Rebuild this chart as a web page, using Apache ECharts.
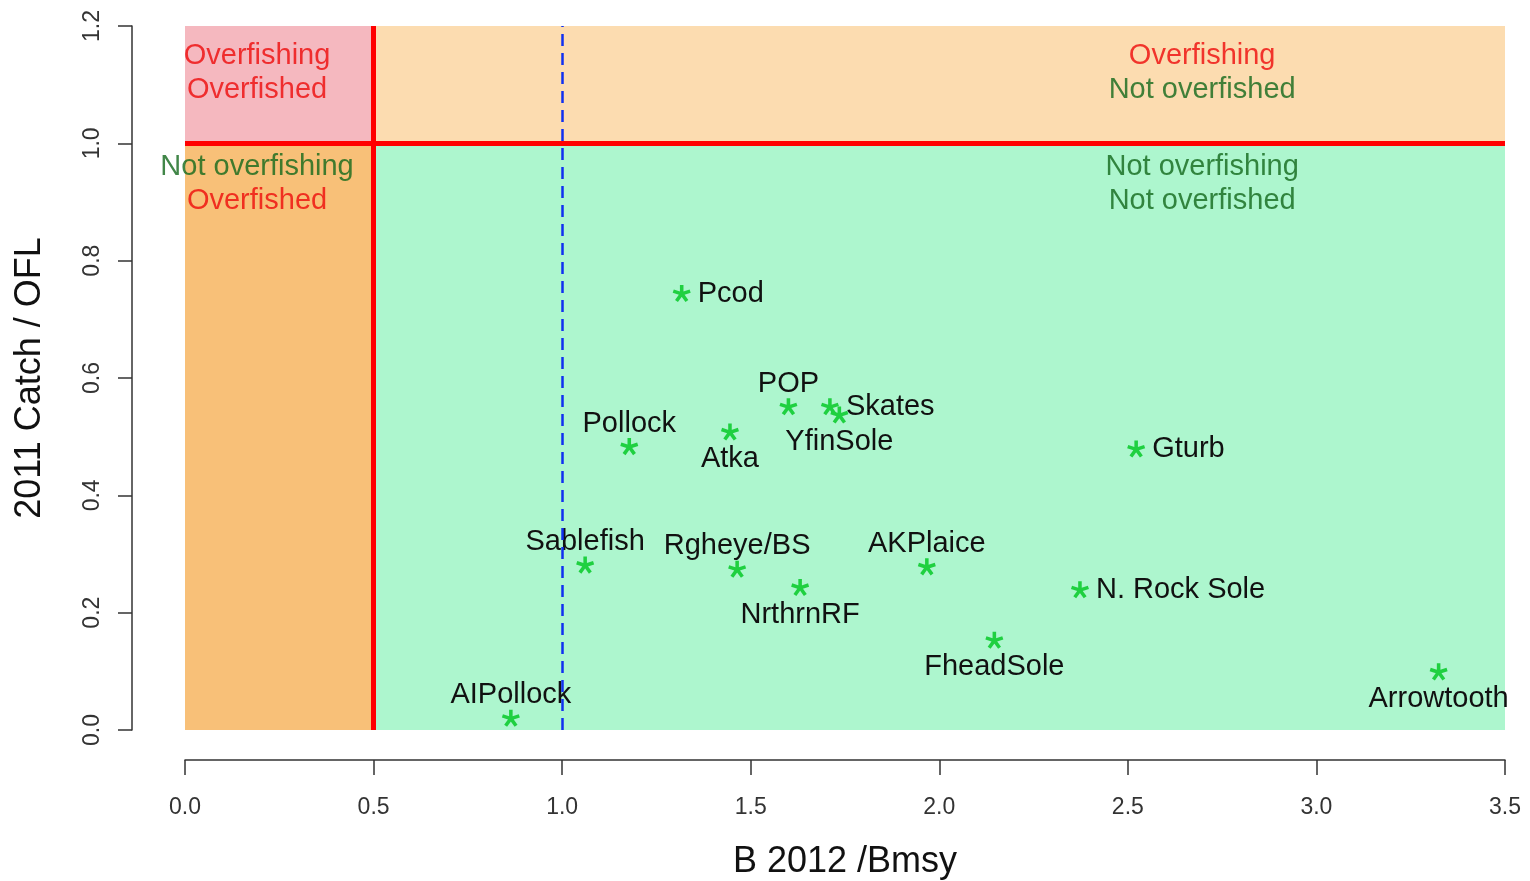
<!DOCTYPE html>
<html>
<head>
<meta charset="utf-8">
<title>Catch / OFL vs B / Bmsy</title>
<script src="https://cdn.jsdelivr.net/npm/echarts@6/dist/echarts.min.js"></script>
<style>
  html, body { margin: 0; padding: 0; background: #fff; }
  #chart { width: 1530px; height: 881px; }
</style>
</head>
<body>
<div id="chart"></div>
<script>
// stock status points
const stocks = ['Pcod', 'POP', 'Skates', 'YfinSole', 'Atka', 'Pollock', 'Gturb', 'Sablefish',
  'Rgheye/BS', 'NrthrnRF', 'AKPlaice', 'N. Rock Sole', 'FheadSole', 'Arrowtooth', 'AIPollock']
const bRatio = [1.317, 1.600, 1.710, 1.735, 1.445, 1.178, 2.522, 1.061,
  1.464, 1.631, 1.967, 2.373, 2.146, 3.324, 0.864]
const catchRatio = [0.744, 0.551, 0.551, 0.537, 0.508, 0.483, 0.479, 0.281,
  0.274, 0.243, 0.278, 0.239, 0.153, 0.099, 0.020]

// reference lines
const bLimit = 0.5
const bTarget = 1.0
const oflLimit = 1.0
const xMax = 3.5
const yMax = 1.2

// quadrant captions
const zoneX = [0.191, 0.191, 2.697, 2.697]
const zoneY = [1.12, 0.93, 1.12, 0.93]
const zoneLine1 = ['Overfishing', 'Not overfishing', 'Overfishing', 'Not overfishing']
const zoneLine2 = ['Overfished', 'Overfished', 'Not overfished', 'Not overfished']

const RED = '#EE0A0A'
const DKGREEN = '#12681A'

// where each name sits next to its star
const labelPos = {
  'Pcod': 'right', 'POP': 'top', 'Skates': 'right', 'YfinSole': 'bottom', 'Atka': 'bottom',
  'Pollock': 'top', 'Gturb': 'right', 'Sablefish': 'top', 'Rgheye/BS': 'top', 'NrthrnRF': 'bottom',
  'AKPlaice': 'top', 'N. Rock Sole': 'right', 'FheadSole': 'bottom', 'Arrowtooth': 'bottom', 'AIPollock': 'top'
}
const posGap = { top: 0, bottom: 4, right: 7 }

// 5 armed asterisk like the text "*"
function asterisk (arms) {
  const w = 0.2
  let p = ''
  for (let i = 0; i < arms; i++) {
    const a = Math.PI * 2 * i / arms
    const c = Math.cos(a), s = Math.sin(a)
    const pts = [[-w, 0.2], [w, 0.2], [w, -1], [-w, -1]].map(([x, y]) => [x * c - y * s, x * s + y * c])
    p += 'M' + pts.map(q => q[0].toFixed(3) + ',' + q[1].toFixed(3)).join('L') + 'Z'
  }
  return 'path://' + p
}

const chart = echarts.init(document.getElementById('chart'))

const zoneColor = (t) => (t.indexOf('Not') === 0 ? 'g' : 'r')

const option = {
  animation: false,
  backgroundColor: '#fff',
  textStyle: { fontFamily: 'Liberation Sans, Arial, sans-serif' },
  grid: { left: 185, right: 25, top: 26, bottom: 151, outerBoundsMode: 'none', containLabel: false },
  xAxis: {
    type: 'value',
    min: 0,
    max: xMax,
    interval: 0.5,
    offset: 30,
    axisLine: { show: true, onZero: false, lineStyle: { color: '#333', width: 1.5 } },
    axisTick: { show: true, length: 15, lineStyle: { color: '#333', width: 1.5 } },
    axisLabel: { margin: 36, fontSize: 23, color: '#333', formatter: v => v.toFixed(1) },
    splitLine: { show: false },
    name: 'B 2012 /Bmsy',
    nameLocation: 'middle',
    nameGap: 84,
    nameTextStyle: { fontSize: 36, color: '#111' }
  },
  yAxis: {
    type: 'value',
    min: 0,
    max: yMax,
    interval: 0.2,
    offset: 53,
    axisLine: { show: true, onZero: false, lineStyle: { color: '#333', width: 1.5 } },
    axisTick: { show: true, length: 14, lineStyle: { color: '#333', width: 1.5 } },
    axisLabel: { margin: 28, fontSize: 23, color: '#333', rotate: 90, formatter: v => v.toFixed(1) },
    splitLine: { show: false },
    name: '2011 Catch / OFL',
    nameLocation: 'middle',
    nameGap: 84,
    nameTextStyle: { fontSize: 36, color: '#111' }
  },
  series: [
    {
      name: 'zones',
      type: 'scatter',
      silent: true,
      symbolSize: 0,
      data: zoneX.map((x, i) => [x, zoneY[i], zoneLine1[i], zoneLine2[i]]),
      label: {
        show: true,
        position: 'inside',
        align: 'center',
        verticalAlign: 'middle',
        formatter: p => '{' + zoneColor(p.data[2]) + '|' + p.data[2] + '}\n{' + zoneColor(p.data[3]) + '|' + p.data[3] + '}',
        rich: {
          r: { color: RED, fontSize: 29, lineHeight: 34 },
          g: { color: DKGREEN, fontSize: 29, lineHeight: 34 }
        }
      },
      markArea: {
        silent: true,
        z: -1,
        data: [
          [{ coord: [0, oflLimit], itemStyle: { color: '#F5B8BF' } }, { coord: [bLimit, yMax] }],
          [{ coord: [bLimit, oflLimit], itemStyle: { color: '#FCDCB0' } }, { coord: [xMax, yMax] }],
          [{ coord: [0, 0], itemStyle: { color: '#F8C078' } }, { coord: [bLimit, oflLimit] }],
          [{ coord: [bLimit, 0], itemStyle: { color: '#ADF6CE' } }, { coord: [xMax, oflLimit] }]
        ]
      }
    },
    {
      name: 'stocks',
      type: 'scatter',
      symbol: asterisk(5),
      symbolKeepAspect: true,
      symbolSize: 18,
      itemStyle: { color: '#1FD040', opacity: 1 },
      data: stocks.map((n, i) => ({
        name: n,
        value: [bRatio[i], catchRatio[i]],
        label: { position: labelPos[n], distance: posGap[labelPos[n]] }
      })),
      label: {
        show: true,
        formatter: '{b}',
        fontSize: 29,
        color: '#111'
      },
      markLine: {
        silent: true,
        symbol: ['none', 'none'],
        label: { show: false },
        data: [
          [{ coord: [0, oflLimit], lineStyle: { color: '#FF0000', width: 5, type: 'solid' } }, { coord: [xMax, oflLimit] }],
          [{ coord: [bLimit, 0], lineStyle: { color: '#FF0000', width: 5, type: 'solid' } }, { coord: [bLimit, yMax] }],
          [{ coord: [bTarget, 0], lineStyle: { color: '#1030F0', width: 2.5, type: [12, 7] } }, { coord: [bTarget, yMax] }]
        ]
      }
    }
  ]
}

chart.setOption(option)
</script>
</body>
</html>
